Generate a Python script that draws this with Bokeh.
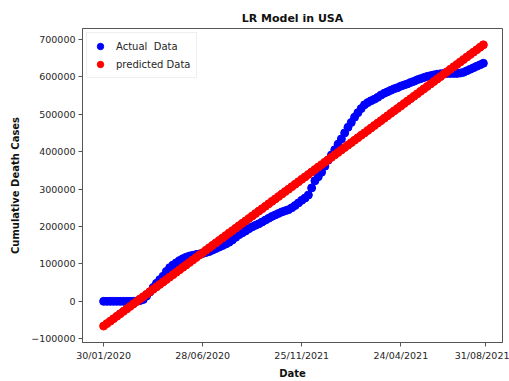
from bokeh.plotting import figure
from bokeh.models import Range1d, FixedTicker, Legend, LegendItem, ColumnDataSource
from bokeh.embed import file_html
from bokeh.resources import INLINE

# Day index since 30/01/2020 (every 5 days)
days = list(range(0, 580, 5))

actual = [0, 0, 0, 0, 0, 0, 0, 0, 0, 0,
          500, 2000, 5000, 14000, 25000, 37000, 48000, 58000, 67000, 80000,
          90000, 97000, 103000, 109000, 114000, 118000, 121000, 123000, 125000, 126500,
          128000, 130500, 133000, 137000, 141000, 145000, 149000, 153000, 158000, 164000,
          171000, 178000, 183000, 188000, 194000, 199000, 203000, 207000, 212000, 217000,
          222000, 227000, 231000, 235000, 239000, 242000, 245000, 250000, 256000, 263000,
          270000, 276000, 284000, 303000, 322000, 333000, 345000, 361000, 377000, 391000,
          405000, 420000, 434000, 450000, 465000, 478000, 492000, 504000, 515000, 525000,
          531000, 536000, 540000, 545000, 551000, 556000, 560000, 564000, 568000, 571000,
          575000, 578000, 581000, 585000, 588000, 592000, 595000, 598000, 601000, 603000,
          605000, 607000, 608000, 609000, 609000, 609000, 609000, 609000, 610000, 612000,
          616000, 620000, 624000, 628000, 632000, 636000]

predicted = [-66000, -59500, -52900, -46400, -39900, -33300, -26800, -20300, -13700, -7200,
             -700, 5900, 12400, 18900, 25500, 32000, 38500, 45100, 51600, 58100,
             64700, 71200, 77700, 84300, 90800, 97300, 103900, 110400, 116900, 123500,
             130000, 136500, 143100, 149600, 156100, 162700, 169200, 175700, 182300, 188800,
             195300, 201900, 208400, 214900, 221500, 228000, 234500, 241100, 247600, 254100,
             260700, 267200, 273700, 280200, 286800, 293300, 299800, 306400, 312900, 319400,
             326000, 332500, 339000, 345600, 352100, 358600, 365200, 371700, 378200, 384800,
             391300, 397800, 404400, 410900, 417400, 424000, 430500, 437000, 443600, 450100,
             456600, 463200, 469700, 476200, 482800, 489300, 495800, 502400, 508900, 515400,
             522000, 528500, 535000, 541600, 548100, 554600, 561200, 567700, 574200, 580800,
             587300, 593800, 600400, 606900, 613400, 620000, 626500, 633000, 639600, 646100,
             652600, 659200, 665700, 672200, 678800, 685300]

x_tick_pos = [0, 150, 300, 450, 579]
x_tick_labels = ["30/01/2020", "28/06/2020", "25/11/2021", "24/04/2021", "31/08/2021"]
y_ticks = [-100000, 0, 100000, 200000, 300000, 400000, 500000, 600000, 700000]

FONT = "DejaVu Sans"
TXT = "#262626"

src = ColumnDataSource(dict(day=days, actual=actual, predicted=predicted))

p = figure(width=509, height=381, output_backend="svg", toolbar_location=None,
           title="LR Model in USA",
           x_range=Range1d(-32, 604), y_range=Range1d(-110000, 729000),
           min_border_left=82, min_border_right=7, min_border_top=28,
           min_border_bottom=38)

r1 = p.scatter("day", "actual", source=src, size=8, color="#0000ff")
r2 = p.scatter("day", "predicted", source=src, size=8, color="#ff0000")

p.title.align = "center"
p.title.text_font = FONT
p.title.text_font_size = "11px"
p.title.text_font_style = "bold"
p.title.text_color = "#111111"
p.title.offset = 0
p.title.standoff = 7

p.xgrid.visible = False
p.ygrid.visible = False
p.outline_line_color = "#555555"
p.outline_line_width = 1
p.background_fill_color = "white"
p.border_fill_color = "white"

for ax in (p.xaxis[0], p.yaxis[0]):
    ax.axis_line_color = "#555555"
    ax.major_tick_line_color = "#555555"
    ax.major_tick_in = 0
    ax.major_tick_out = 4
    ax.minor_tick_line_color = None
    ax.major_label_text_font = FONT
    ax.major_label_text_font_size = "9.5px"
    ax.major_label_text_color = TXT
    ax.axis_label_text_font = FONT
    ax.axis_label_text_font_size = "10px"
    ax.axis_label_text_font_style = "bold"
    ax.axis_label_text_color = "#111111"

p.xaxis.ticker = FixedTicker(ticks=x_tick_pos)
p.xaxis.major_label_overrides = {t: l for t, l in zip(x_tick_pos, x_tick_labels)}
p.xaxis.axis_label = "Date"
p.xaxis.major_label_standoff = 3
p.xaxis.axis_label_standoff = 4

p.yaxis.ticker = FixedTicker(ticks=y_ticks)
p.yaxis.major_label_overrides = {t: (str(t).replace("-", "\u2212")) for t in y_ticks}
p.yaxis.axis_label = "Cumulative Death Cases"
p.yaxis.major_label_standoff = 3
p.yaxis.axis_label_standoff = 7

legend = Legend(items=[LegendItem(label="Actual  Data", renderers=[r1]),
                       LegendItem(label="predicted Data", renderers=[r2])],
                location="top_left")
legend.label_text_font = FONT
legend.label_text_font_size = "10px"
legend.label_text_color = TXT
legend.border_line_color = "#dddddd"
legend.background_fill_alpha = 0.9
legend.margin = 4
legend.padding = 5
legend.spacing = 2
legend.glyph_width = 16
legend.glyph_height = 16
legend.label_height = 16
legend.label_standoff = 8
p.add_layout(legend)

open("out.html", "w").write(file_html(p, INLINE))
